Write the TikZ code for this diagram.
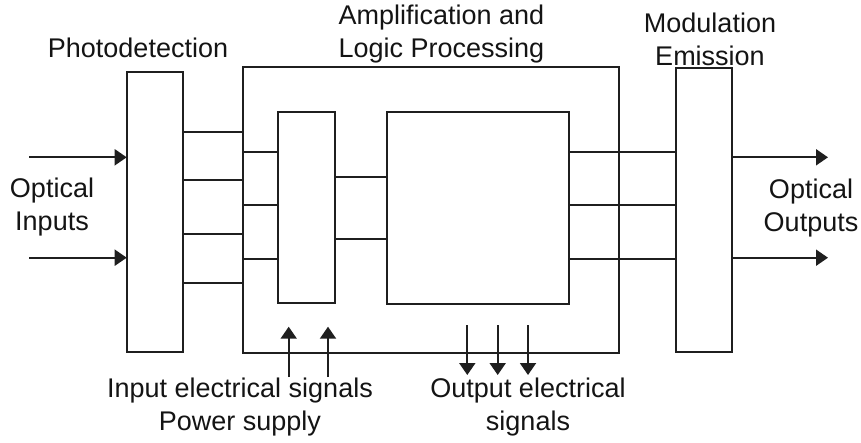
\documentclass[tikz,border=0pt]{standalone}
\usepackage{fontspec}
\setmainfont{Liberation Sans}
\usetikzlibrary{arrows.meta}
\begin{document}
\begin{tikzpicture}[x=1pt,y=-1pt, line width=2pt, draw=black!88,
  box/.style={draw, rectangle, inner sep=0pt, outer sep=0pt, anchor=north west},
  lbl/.style={font=\fontsize{27}{32.5}\selectfont, align=center, anchor=base, inner sep=0pt, text=black!92},
  arr/.style={-{Triangle[length=12pt,width=16pt]}}]
\useasboundingbox (0,0) rectangle (861,442);
% boxes
\node[box, minimum width=56pt, minimum height=280.6pt] (pd) at (126.7,71.7) {};
\node[box, minimum width=376.6pt, minimum height=286.6pt] (amp) at (242.7,66.7) {};
\node[box, minimum width=56.7pt, minimum height=191.3pt] (sb) at (278.3,111.7) {};
\node[box, minimum width=182.3pt, minimum height=191.7pt] (lb) at (386.7,112) {};
\node[box, minimum width=56pt, minimum height=284pt] (mod) at (675.7,68.3) {};
% connectors
\foreach \y in {131.7,180,233.5,283.3} \draw (pd.east |- 0,\y) -- (amp.west |- 0,\y);
\foreach \y in {151.7,205,259} \draw (amp.west |- 0,\y) -- (sb.west |- 0,\y);
\foreach \y in {176.7,239.3} \draw (sb.east |- 0,\y) -- (lb.west |- 0,\y);
\foreach \y in {152,205,259} \draw (lb.east |- 0,\y) -- (mod.west |- 0,\y);
% optical arrows
\coordinate (in1) at (29,157.3);
\coordinate (in2) at (29,257.7);
\coordinate (out1) at (828,157.3);
\coordinate (out2) at (828,257.7);
\draw[arr] (in1) -- (pd.west |- in1);
\draw[arr] (in2) -- (pd.west |- in2);
\draw[arr] (mod.east |- out1) -- (out1);
\draw[arr] (mod.east |- out2) -- (out2);
% electrical arrows
\coordinate (ua) at (288.7,377); \coordinate (uat) at (288.7,326.7);
\coordinate (ub) at (328,377);   \coordinate (ubt) at (328,326.7);
\draw[arr] (ua) -- (uat);
\draw[arr] (ub) -- (ubt);
\foreach \x/\n in {467.3/da,497.7/db,528/dc} {
  \coordinate (\n) at (\x,325); \coordinate (\n t) at (\x,375);
  \draw[arr] (\n) -- (\n t);
}
% labels (anchor = baseline of last line)
\node[lbl] (tpd) at (138,57) {Photodetection};
\node[lbl] (tamp) at (441.5,57) {Amplification and\\Logic Processing};
\node[lbl] (tmod) at (710,65) {Modulation\\Emission};
\node[lbl] (tin) at (52,230) {Optical\\Inputs};
\node[lbl] (tout) at (811,231) {Optical\\Outputs};
\node[lbl] (tie) at (240,430) {Input electrical signals\\Power supply};
\node[lbl] (toe) at (528,430) {Output electrical\\signals};
\end{tikzpicture}
\end{document}
